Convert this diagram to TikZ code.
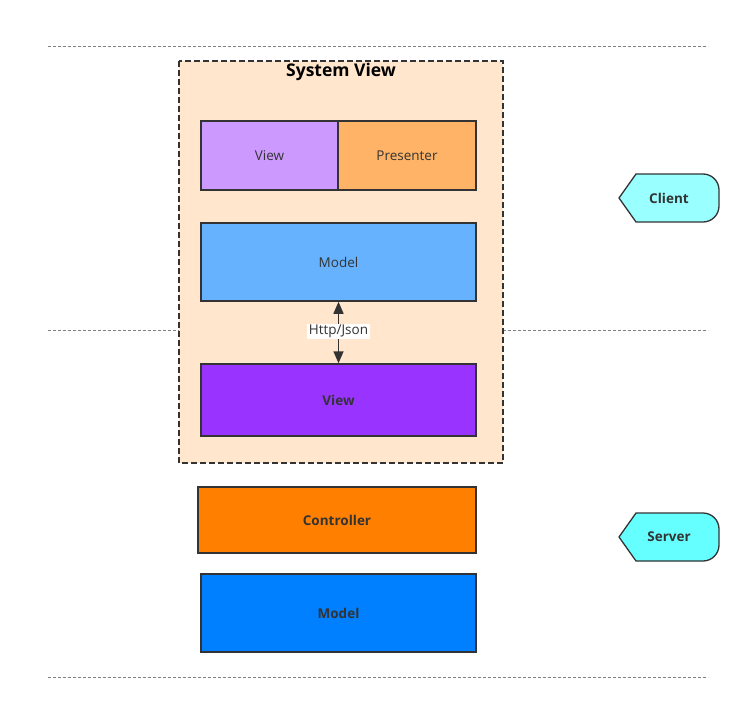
\documentclass[tikz,border=0pt]{standalone}
\usepackage{fontspec}
\setmainfont{Open Sans}
\usetikzlibrary{arrows.meta}
\definecolor{edge}{HTML}{333333}
\definecolor{sysfill}{HTML}{FFE6CC}
\definecolor{viewfill}{HTML}{CC99FF}
\definecolor{presfill}{HTML}{FFB366}
\definecolor{modfill}{HTML}{66B2FF}
\definecolor{sviewfill}{HTML}{9933FF}
\definecolor{ctrlfill}{HTML}{FF8000}
\definecolor{smodfill}{HTML}{007FFF}
\definecolor{tagfill}{HTML}{99FFFF}
\definecolor{tagfillb}{HTML}{66FFFF}
\tikzset{
  sep/.style={draw=black!50, line width=1pt, dash pattern=on 3pt off 2pt},
  box/.style={draw=edge, line width=1.5pt, font=\fontsize{13.5}{15}\selectfont, text=edge},
  bbox/.style={box, font=\fontsize{13.5}{15}\selectfont\bfseries},
  tag/.style={draw=edge, line width=1.3pt, line join=round},
}
\begin{document}
\begin{tikzpicture}[x=1pt,y=-1pt]
\useasboundingbox (0,0) rectangle (751,709);
% separators
\draw[sep] (48,47) -- (708,47);
\draw[sep] (48,330) -- (708,330);
\draw[sep] (48,677) -- (708,677);
% system view container
\draw[fill=sysfill, draw=edge, line width=1.4pt, dash pattern=on 6pt off 3pt] (179,61) rectangle (503,463);
\node[font=\fontsize{17.5}{20}\selectfont\bfseries, text=black] (title) at (341,72) {System View};
% client boxes
\node[box, fill=viewfill, minimum width=137pt, minimum height=69pt, inner sep=0pt] (view) at (269.5,155.5) {View};
\node[box, fill=presfill, minimum width=138pt, minimum height=69pt, inner sep=0pt] (pres) at (407,155.5) {Presenter};
\node[box, fill=modfill, minimum width=275pt, minimum height=78pt, inner sep=0pt] (model) at (338.5,262) {Model};
\node[bbox, fill=sviewfill, minimum width=275pt, minimum height=72pt, inner sep=0pt] (sview) at (338.5,400) {View};
% arrow
\draw[draw=edge, line width=1.5pt, {Triangle[length=12pt,width=10pt]}-{Triangle[length=12pt,width=10pt]}] (model.south) -- (sview.north)
  node[midway, fill=white, inner sep=1.5pt, text=edge, font=\fontsize{13.5}{15}\selectfont, yshift=1pt] (lbl) {Http/Json};
% server boxes
\node[bbox, fill=ctrlfill, minimum width=278pt, minimum height=66pt, inner sep=0pt] (ctrl) at (337,520) {Controller};
\node[bbox, fill=smodfill, minimum width=275pt, minimum height=78pt, inner sep=0pt] (smod) at (338.5,613) {Model};
% tags
\draw[tag, fill=tagfill] (619,198) -- (636,174) -- (703,174) arc[start angle=90, end angle=0, radius=16pt] -- (719,206) arc[start angle=0, end angle=-90, radius=16pt] -- (636,222) -- cycle;
\node[font=\fontsize{13.5}{15}\selectfont\bfseries, text=edge] (client) at (669,198) {Client};
\draw[tag, fill=tagfillb] (619,537) -- (636,513) -- (703,513) arc[start angle=90, end angle=0, radius=16pt] -- (719,545) arc[start angle=0, end angle=-90, radius=16pt] -- (636,561) -- cycle;
\node[font=\fontsize{13.5}{15}\selectfont\bfseries, text=edge] (server) at (669,537) {Server};
\end{tikzpicture}
\end{document}
